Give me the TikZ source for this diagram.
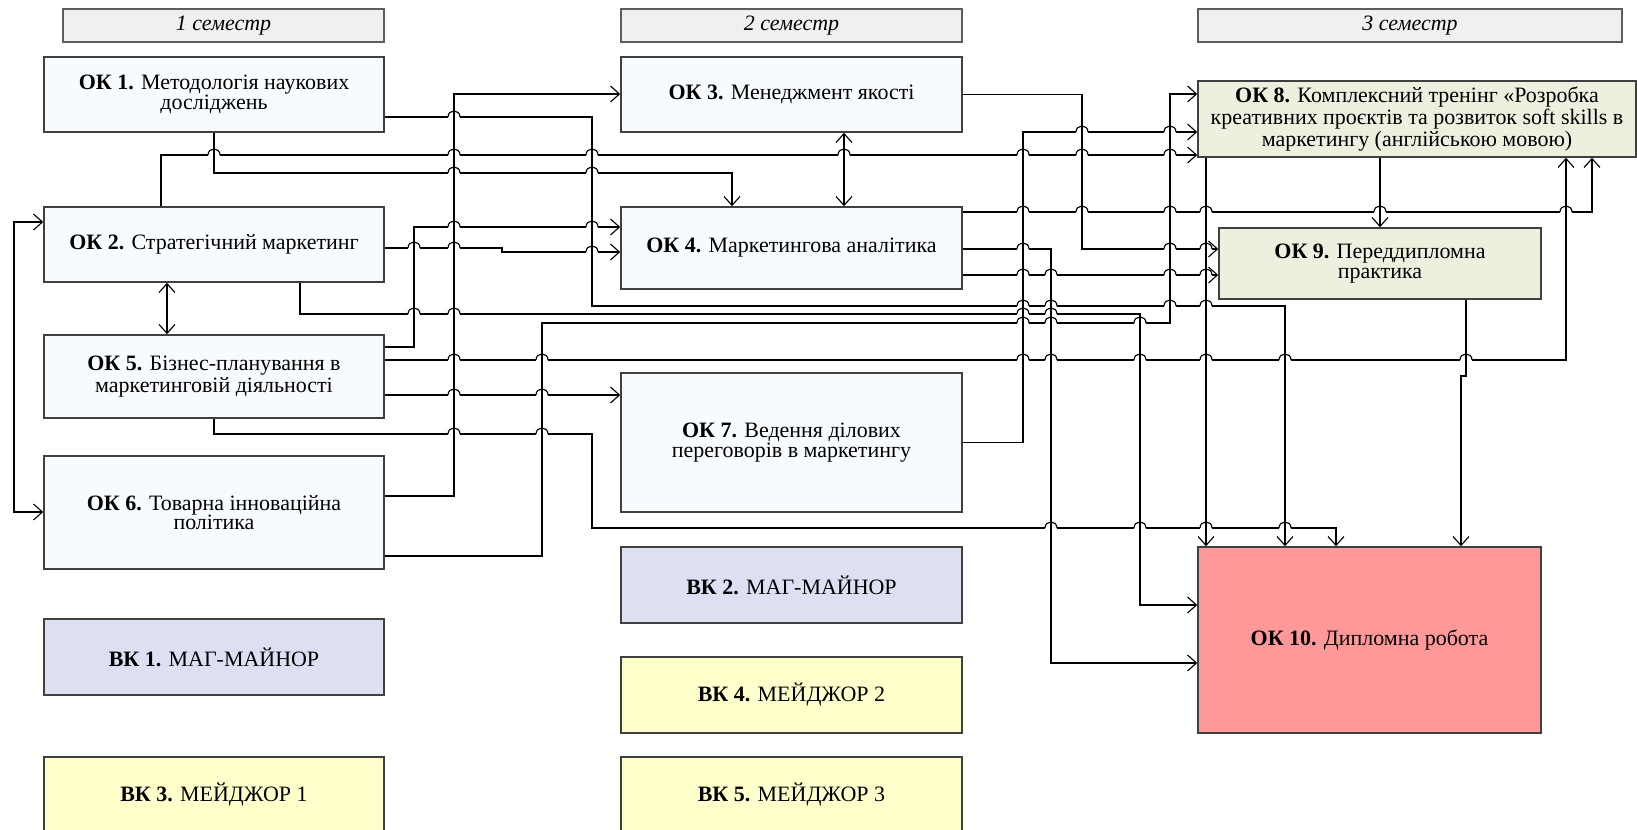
\documentclass[tikz,border=0pt]{standalone}
\usepackage{fontspec}
\setmainfont{Liberation Serif}
\usepackage{xcolor}
\usepackage{tikz}
\definecolor{boxfill}{RGB}{248,251,254}
\definecolor{boxline}{RGB}{64,64,64}
\definecolor{majorfill}{RGB}{255,255,204}
\definecolor{minorfill}{RGB}{221,224,242}
\definecolor{greenfill}{RGB}{235,241,222}
\definecolor{thesisfill}{RGB}{255,153,153}
\definecolor{semfill}{RGB}{240,240,240}
\usetikzlibrary{arrows.meta, positioning, calc}

% small bridge where a horizontal line passes over a vertical one
\newcommand{\hopover}[2]{%
  \fill[white] (#1-6,#2-1.6) rectangle (#1+6,#2+1.6);
  \draw[wire] (#1,#2-2.5) -- (#1,#2+2.5);
  \draw[wire] (#1-6,#2) .. controls (#1-6,#2-8) and (#1+6,#2-8) .. (#1+6,#2);}

\begin{document}
\begin{tikzpicture}[
    x=0.02cm, y=-0.02cm,
    every node/.style={font=\fontsize{12.5}{11}\selectfont},
    okbox/.style={rectangle, draw=boxline, fill=boxfill, line width=0.9pt,
                  align=center, inner sep=0pt},
    semtitle/.style={rectangle, draw=boxline!85, fill=semfill, line width=0.9pt,
                     minimum height=0.66cm, inner sep=0pt,
                     font=\fontsize{12.5}{12.5}\selectfont\itshape},
    wire/.style={draw=black, line width=0.65pt},
    link/.style={wire, -{Straight Barb[length=5pt,width=9pt]}},
    dlink/.style={wire, {Straight Barb[length=5pt,width=9pt]}-{Straight Barb[length=5pt,width=9pt]}}
]
    \useasboundingbox (0,0) rectangle (1637,830);

    % Semester titles
    \node[semtitle, minimum width=6.42cm] (sem1) at (223.5,25.5) {1 семестр};
    \node[semtitle, minimum width=6.82cm] (sem2) at (791.5,25.5) {2 семестр};
    \node[semtitle, minimum width=8.48cm] (sem3) at (1410,25.5) {3 семестр};

    % Semester 1
    \node[okbox, minimum width=6.8cm, minimum height=1.5cm] (ok1) at (214,94.5)
        {\textbf{ОК 1.} Методологія наукових\\досліджень};
    \node[okbox, minimum width=6.8cm, minimum height=1.5cm] (ok2) at (214,244.5)
        {\textbf{ОК 2.} Стратегічний маркетинг};
    \node[okbox, minimum width=6.8cm, minimum height=1.66cm] (ok5) at (214,376.5)
        {\textbf{ОК 5.} Бізнес-планування в\\маркетинговій діяльності};
    \node[okbox, minimum width=6.8cm, minimum height=2.26cm] (ok6) at (214,512.5)
        {\textbf{ОК 6.} Товарна інноваційна\\політика};
    \node[okbox, fill=minorfill, minimum width=6.8cm, minimum height=1.52cm] (vk1) at (214,657)
        {\textbf{ВК 1.} МАГ-МАЙНОР};
    \node[okbox, fill=majorfill, minimum width=6.8cm, minimum height=1.52cm] (vk3) at (214,795)
        {\textbf{ВК 3.} МЕЙДЖОР 1};

    % Semester 2
    \node[okbox, minimum width=6.82cm, minimum height=1.5cm] (ok3) at (791.5,94.5)
        {\textbf{ОК 3.} Менеджмент якості};
    \node[okbox, minimum width=6.82cm, minimum height=1.64cm] (ok4) at (791.5,248)
        {\textbf{ОК 4.} Маркетингова аналітика};
    \node[okbox, minimum width=6.82cm, minimum height=2.78cm] (ok7) at (791.5,442.5)
        {\textbf{ОК 7.} Ведення ділових\\переговорів в маркетингу};
    \node[okbox, fill=minorfill, minimum width=6.82cm, minimum height=1.52cm] (vk2) at (791.5,585)
        {\textbf{ВК 2.} МАГ-МАЙНОР};
    \node[okbox, fill=majorfill, minimum width=6.82cm, minimum height=1.52cm] (vk4) at (791.5,695)
        {\textbf{ВК 4.} МЕЙДЖОР 2};
    \node[okbox, fill=majorfill, minimum width=6.82cm, minimum height=1.52cm] (vk5) at (791.5,795)
        {\textbf{ВК 5.} МЕЙДЖОР 3};

    % Semester 3
    \node[okbox, fill=greenfill, minimum width=8.76cm, minimum height=1.52cm] (ok8) at (1417,119)
        {\textbf{ОК 8.} Комплексний тренінг «Розробка\\креативних проєктів та розвиток soft skills в\\маркетингу (англійською мовою)};
    \node[okbox, fill=greenfill, minimum width=6.44cm, minimum height=1.42cm] (ok9) at (1380,263.5)
        {\textbf{ОК 9.} Переддипломна\\практика};
    \node[okbox, fill=thesisfill, minimum width=6.86cm, minimum height=3.72cm] (ok10) at (1369.5,640)
        {\textbf{ОК 10.} Дипломна робота};

    % Links from semester 1
    \draw[link] (ok6.east |- 0,496) -| (454,94) -- (ok3.west |- 0,94);
    \draw[link] (ok1.east |- 0,117) -| (592,306) -| (ok10.north -| 1285,0);
    \draw[link] (ok1.south) |- (732,173) -- (ok4.north -| 732,0);
    \draw[link] (ok2.north -| 161,0) |- (ok8.west |- 0,155);
    \draw[link] (ok2.east |- 0,248) -- (502,248) -- (502,252) -- (ok4.west |- 0,252);
    \draw[link] (ok5.east |- 0,347) -| (414,227) -- (ok4.west |- 0,227);
    \draw[dlink] (ok2.south -| 167,0) -- (ok5.north -| 167,0);
    \draw[dlink] (ok2.west |- 0,222) -| (14,512) -- (ok6.west |- 0,512);
    \draw[link] (ok2.south -| 300,0) |- (1140,314) |- (ok10.west |- 0,605);
    \draw[link] (ok6.east |- 0,556) -| (542,323) -| (1170,94) -- (ok8.west |- 0,94);
    \draw[link] (ok5.east |- 0,360) -| (ok8.south -| 1566,0);
    \draw[link] (ok5.east |- 0,395) -- (ok7.west |- 0,395);
    \draw[link] (ok5.south) |- (592,434) |- (1336,528) -- (ok10.north -| 1336,0);

    % Links from semester 2
    \draw[dlink] (ok3.south -| 844,0) -- (ok4.north -| 844,0);
    \draw[link] (ok3.east) -| (1082,249) -- (ok9.west |- 0,249);
    \draw[link] (ok4.east |- 0,212) -| (ok8.south -| 1592,0);
    \draw[link] (ok4.east |- 0,249) -| (1051,663) -- (ok10.west |- 0,663);
    \draw[link] (ok4.east |- 0,275) -- (ok9.west |- 0,275);
    \draw[link] (ok7.east) -| (1023,132) -- (ok8.west |- 0,132);

    % Links in semester 3
    \draw[link] (ok8.south -| ok9.north) -- (ok9.north);
    \draw[link] (ok8.south -| 1206,0) -- (ok10.north -| 1206,0);
    \draw[link] (ok9.south -| 1466,0) -- (1466,376) -- (1461,376) -- (ok10.north -| 1461,0);

    % Line hops, top to bottom
    \foreach \x in {454} \hopover{\x}{117};
    \foreach \x in {1082,1170} \hopover{\x}{132};
    \foreach \x in {214,454,592,844,1023,1082,1170} \hopover{\x}{155};
    \foreach \x in {454,592} \hopover{\x}{173};
    \foreach \x in {1023,1082,1170,1206,1380,1566} \hopover{\x}{212};
    \foreach \x in {454,592} \hopover{\x}{227};
    \foreach \x in {414,454} \hopover{\x}{248};
    \foreach \x in {1023,1170,1206} \hopover{\x}{249};
    \foreach \x in {592} \hopover{\x}{252};
    \foreach \x in {1023,1051,1170,1206} \hopover{\x}{275};
    \foreach \x in {1023,1051,1170,1206} \hopover{\x}{306};
    \foreach \x in {414,454,1023,1051} \hopover{\x}{314};
    \foreach \x in {1023,1051,1140} \hopover{\x}{323};
    \foreach \x in {454,542,1023,1051,1140,1206,1285,1466} \hopover{\x}{360};
    \foreach \x in {454,542} \hopover{\x}{395};
    \foreach \x in {454,542} \hopover{\x}{434};
    \foreach \x in {1051,1140,1206,1285} \hopover{\x}{528};
\end{tikzpicture}
\end{document}
